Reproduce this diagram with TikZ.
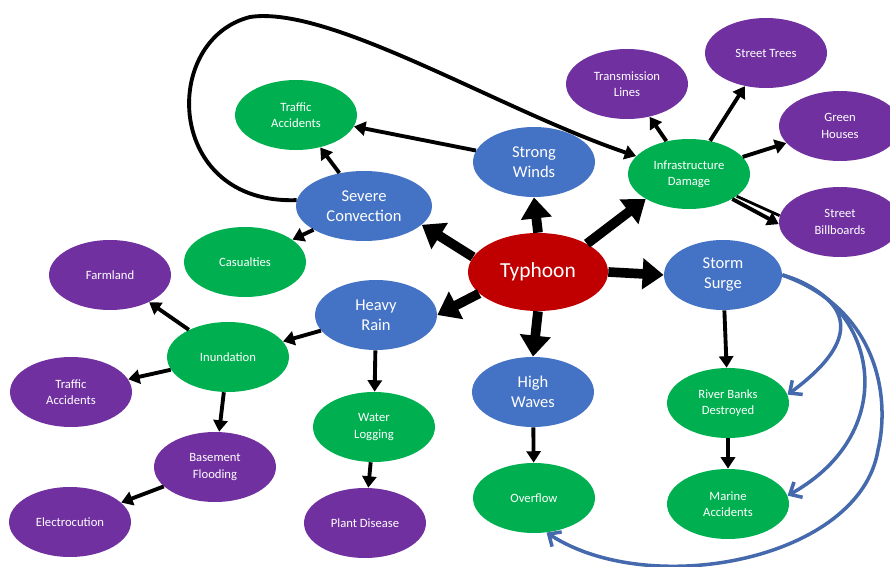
\documentclass[tikz,border=0pt]{standalone}
\usepackage{fontspec}
\setmainfont{Carlito}
\usepackage{xcolor}
\usepackage{tikz}
\usetikzlibrary{arrows.meta}
\usetikzlibrary{shapes.geometric}
\definecolor{hazblue}{HTML}{4472C4}
\definecolor{hazgreen}{HTML}{00B050}
\definecolor{hazpurple}{HTML}{7030A0}
\definecolor{hazred}{HTML}{C00000}
\definecolor{seablue}{HTML}{4469AC}

\begin{document}
\begin{tikzpicture}[x=0.02cm,y=-0.02cm,
		bubble/.style={ellipse,inner sep=0pt,minimum width=2.44cm,minimum height=1.4cm,text=white,align=center,font=\fontsize{7.2}{9.2}\selectfont},
		cause/.style={bubble,fill=hazblue,font=\fontsize{9.4}{11.4}\selectfont},
		effect/.style={bubble,fill=hazgreen},
		loss/.style={bubble,fill=hazpurple},
		link/.style={-{Triangle[length=6.5pt,width=8pt]},line width=2.2pt},
		biglink/.style={-{Triangle[length=12pt,width=17pt]},line width=5.5pt},
		sealink/.style={-{Straight Barb[length=5.5pt,width=10pt]},line width=2pt,draw=seablue}]
		\useasboundingbox (0,0) rectangle (890,567);
		\clip (0,0) rectangle (890,567);
		% centre and first ring
		\node[bubble,fill=hazred,minimum width=2.8cm,minimum height=1.56cm,font=\fontsize{12.2}{14}\selectfont] (ty) at (538,272) {Typhoon};
		\node[cause] (sw) at (534,162) {Strong\\Winds};
		\node[cause,minimum width=2.72cm] (sc) at (364,206) {Severe\\Convection};
		\node[cause] (hr) at (376,315) {Heavy\\Rain};
		\node[cause] (hw) at (533,392) {High\\Waves};
		\node[cause,minimum width=2.36cm] (ss) at (723,275) {Storm\\Surge};
		\node[effect] (id) at (689,174) {Infrastructure\\Damage};
		% consequences
		\node[effect] (ta) at (296,115) {Traffic\\Accidents};
		\node[effect] (ca) at (245,262) {Casualties};
		\node[effect] (in) at (228,357) {Inundation};
		\node[effect] (wl) at (374,427) {Water\\Logging};
		\node[effect] (of) at (534,498) {Overflow};
		\node[effect] (rb) at (728,403) {River Banks\\Destroyed};
		\node[effect] (ma) at (728,504) {Marine\\Accidents};
		\node[loss] (fl) at (110,275) {Farmland};
		\node[loss] (tp) at (71,392) {Traffic\\Accidents};
		\node[loss] (bf) at (215,467) {Basement\\Flooding};
		\node[loss] (el) at (70,522) {Electrocution};
		\node[loss] (pd) at (365,523) {Plant Disease};
		\node[loss] (tl) at (627,84) {Transmission\\Lines};
		\node[loss] (st) at (766,53) {Street Trees};
		\node[loss] (gh) at (840,126) {Green\\Houses};
		\node[loss] (bb) at (840,222) {Street\\Billboards};
		% typhoon arrows
		\draw[biglink] (ty.north) -- (sw.south);
		\draw[biglink] (ty.167) -- (sc.-18);
		\draw[biglink] (ty.200) -- (hr.east);
		\draw[biglink] (ty.south) -- (hw.north);
		\draw[biglink] (ty.east) -- (ss.west);
		\draw[biglink] (ty.30) -- (id.210);
		% ordinary arrows
		\draw[link] (sw) -- (ta);
		\draw[link] (sc) -- (ta);
		\draw[link] (sc) -- (ca);
		\draw[link] (hr) -- (in);
		\draw[link] (hr) -- (wl);
		\draw[link] (wl) -- (pd);
		\draw[link] (in) -- (fl);
		\draw[link] (in) -- (tp);
		\draw[link] (in) -- (bf);
		\draw[link] (bf) -- (el);
		\draw[link] (hw) -- (of);
		\draw[link] (ss) -- (rb);
		\draw[link] (rb) -- (ma);
		\draw[link] (id) -- (tl);
		\draw[link] (id) -- (st);
		\draw[link] (id) -- (gh);
		\draw[line width=1.6pt] (id.-25) -- (bb.174);
		\draw[link] (id.-30) -- (bb.182);
		% loop over the top
		\draw[link] (sc.175) .. controls (165,205) and (160,40) .. (250,17)
			.. controls (330,5) and (500,110) .. (id);
		% storm surge curves
		\draw[sealink] (ss.east) .. controls (855,300) and (862,340) .. (rb.8);
		\draw[sealink] (ss.east) .. controls (875,300) and (905,430) .. (ma.8);
		\draw[sealink] (ss.east) .. controls (880,310) and (890,400) .. (878,450)
			.. controls (860,560) and (650,600) .. (of.-70);
	\end{tikzpicture}
\end{document}
